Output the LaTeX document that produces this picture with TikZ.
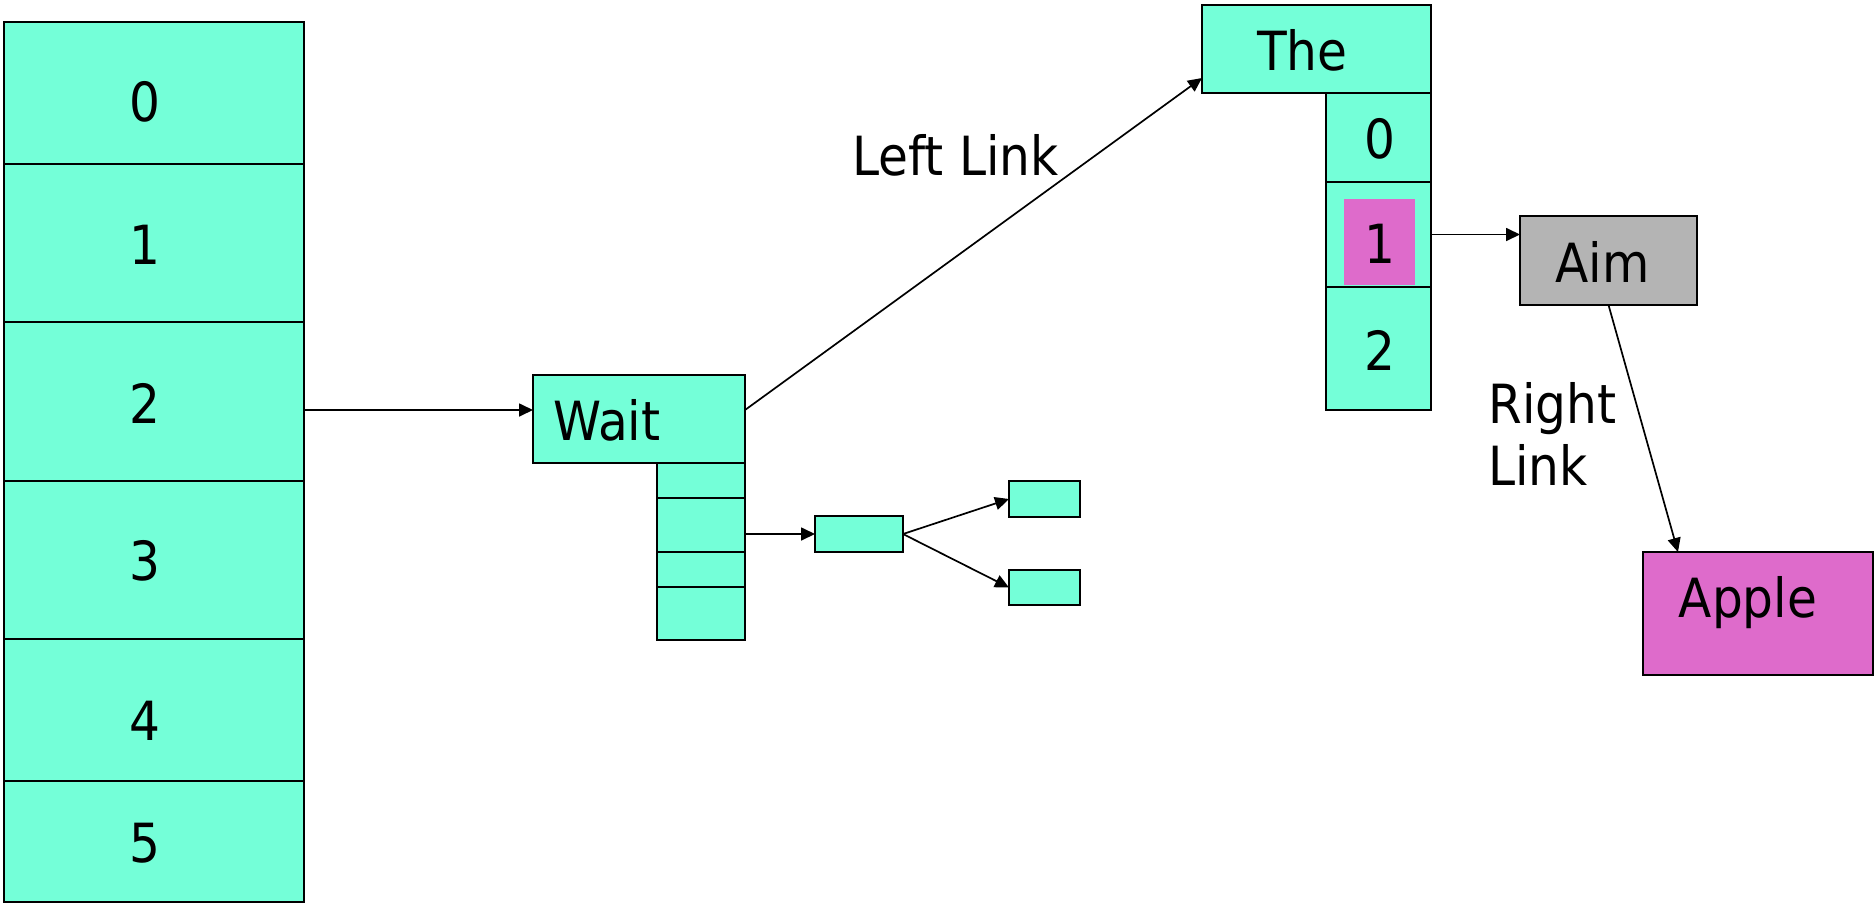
\documentclass[tikz,border=0pt]{standalone}
\usepackage{fontspec}
\setmainfont{DejaVu Sans Condensed}
\usetikzlibrary{fit,arrows.meta,calc}
\definecolor{aqua}{HTML}{74FFD8}
\definecolor{orchidpink}{HTML}{DE6BCB}
\definecolor{aimgrey}{HTML}{B4B4B4}
\begin{document}
\begin{tikzpicture}[x=0.5pt,y=-0.5pt,
  cell/.style={draw, line width=1pt, fill=aqua, inner sep=0pt, outer sep=0pt},
  lbl/.style={font=\fontsize{27pt}{31pt}\selectfont, inner sep=0pt, anchor=base},
  arr/.style={line width=0.85pt, -{Triangle[length=7pt,width=6.5pt]}}]
\useasboundingbox (0,0) rectangle (1874,905);

% hash table with six slots
\node[cell, fit={(3.6,22) (303.6,163.5)}] (A0) {};
\node[cell, fit={(3.6,163.5) (303.6,322)}] (A1) {};
\node[cell, fit={(3.6,322) (303.6,480.5)}] (A2) {};
\node[cell, fit={(3.6,480.5) (303.6,639)}] (A3) {};
\node[cell, fit={(3.6,639) (303.6,780.5)}] (A4) {};
\node[cell, fit={(3.6,780.5) (303.6,902)}] (A5) {};
\node[lbl] (a0) at (144.5,121.6) {0};
\node[lbl] (a1) at (144.5,264.4) {1};
\node[lbl] (a2) at (144.5,423) {2};
\node[lbl] (a3) at (144.5,580) {3};
\node[lbl] (a4) at (144.5,740) {4};
\node[lbl] (a5) at (144.5,862.5) {5};

% "Wait" node with its child slots
\node[cell, fit={(533,375) (745,463)}] (W) {};
\node[lbl] (wt) at (607,440) {Wait};
\node[cell, fit={(657,463) (745,498)}] (w1) {};
\node[cell, fit={(657,498) (745,552)}] (w2) {};
\node[cell, fit={(657,552) (745,587)}] (w3) {};
\node[cell, fit={(657,587) (745,640)}] (w4) {};
\node[cell, fit={(815,516) (903,552)}] (M) {};
\node[cell, fit={(1009,481) (1080,517)}] (S1) {};
\node[cell, fit={(1009,570) (1080,605)}] (S2) {};

% "The" node with its child slots
\node[cell, fit={(1202,5) (1431,93)}] (T) {};
\node[lbl] (tt) at (1302.5,70) {The};
\node[cell, fit={(1326,93) (1431,182)}] (t0) {};
\node[cell, fit={(1326,182) (1431,287)}] (t1) {};
\node[cell, fit={(1326,287) (1431,410)}] (t2) {};
\node[fill=orchidpink, inner sep=0pt, outer sep=0pt, fit={(1344,199) (1415,285)}] (t1mark) {};
\node[lbl] (d0) at (1379.5,158) {0};
\node[lbl] (d1) at (1379.5,263) {1};
\node[lbl] (d2) at (1379.5,370) {2};

% "Aim" and "Apple"
\node[cell, fill=aimgrey, fit={(1520,216) (1697,305)}] (Aim) {};
\node[lbl] (aimt) at (1602.5,282) {Aim};
\node[cell, fill=orchidpink, fit={(1643,552) (1873,675)}] (Apple) {};
\node[lbl] (applet) at (1748,617) {Apple};

% link labels
\node[lbl] (ll) at (955.5,175) {Left Link};
\node[lbl, anchor=north west, align=left] (rl) at (1488,382) {Right\\Link};

% connectors
\coordinate (r1) at (0,410);
\coordinate (r2) at (0,78);
\draw[arr] (A2.east |- r1) -- (W.west |- r1);
\draw[arr] (W.east |- r1) -- (T.west |- r2);
\draw[arr] (w2.east |- M.west) -- (M.west);
\draw[arr] (M.east) -- (S1.west);
\draw[arr] (M.east) -- (S2.west);
\draw[arr] (t1.east) -- (Aim.west |- t1.east);
\draw[arr] (Aim.south) -- ($(Apple.north west)!0.152!(Apple.north east)$);
\end{tikzpicture}
\end{document}
